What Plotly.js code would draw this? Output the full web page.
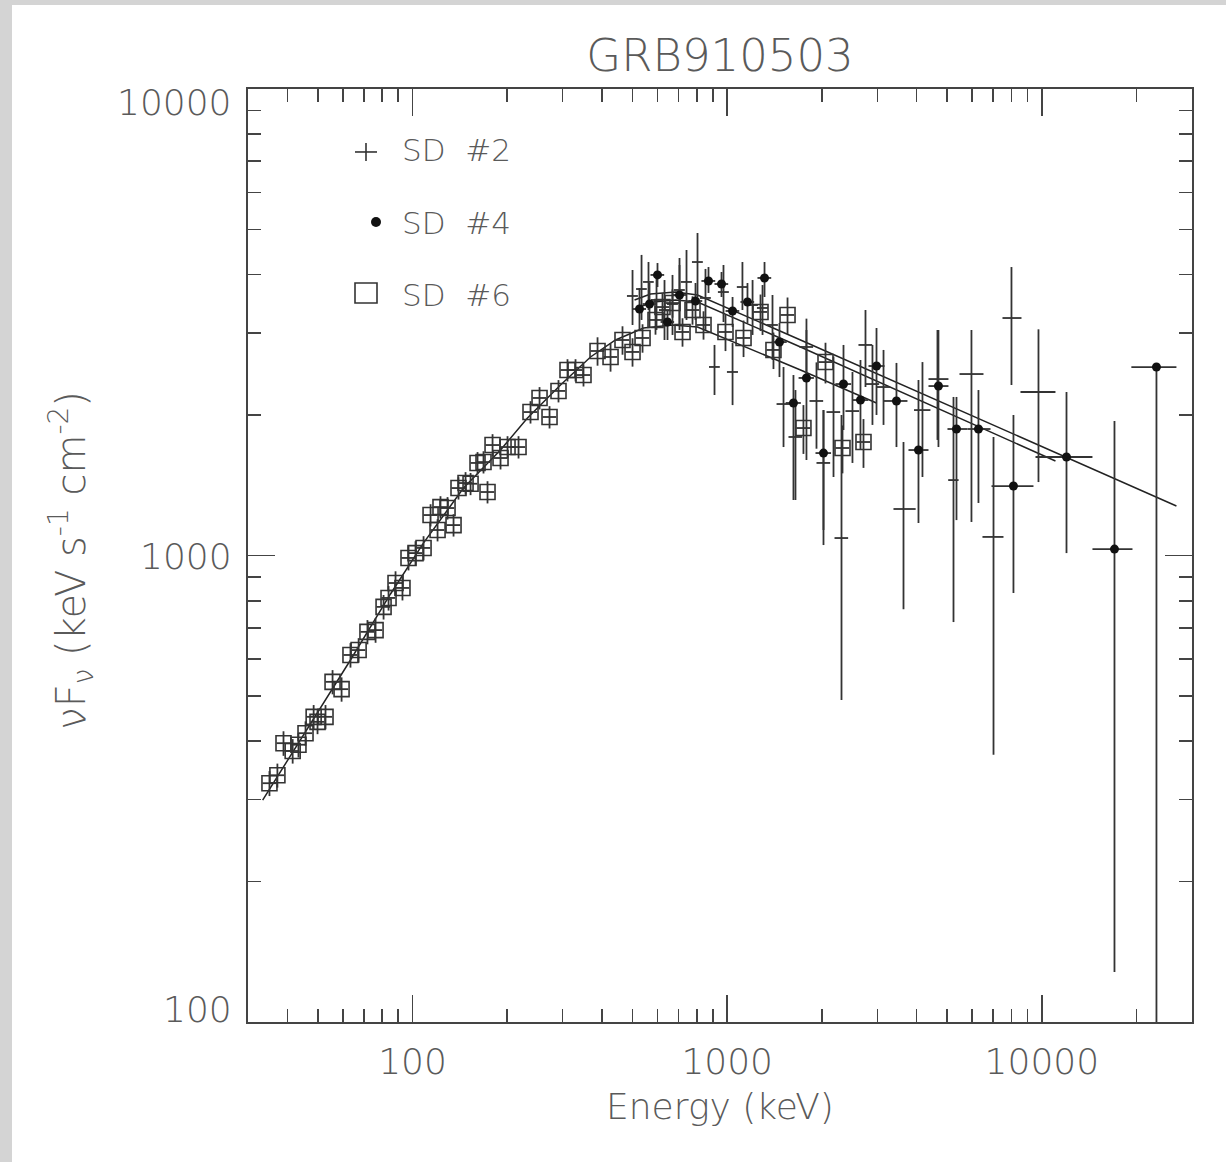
<!DOCTYPE html>
<html>
<head>
<meta charset="utf-8">
<script src="https://cdn.plot.ly/plotly-3.0.1.min.js"></script>
<style>
  html, body { margin: 0; padding: 0; background: #d4d4d4; width: 1226px; height: 1162px; overflow: hidden; }
  #chart { position: absolute; left: 12px; top: 5px; width: 1214px; height: 1157px; background: #ffffff; }
</style>
</head>
<body>
<div id="chart"></div>
<script>
// ---------------- data ----------------
// SD #6 (open squares)
const sd6E = [35.1, 37.2, 38.9, 41.6, 43.4, 45.7, 48.5, 49.9, 52.9, 55.7, 59.5, 63.5, 67.4, 71.9, 76.3, 80.9, 83.9, 88.3, 92.9, 97.1,
              102.2, 108.4, 114.1, 120.1, 122.7, 129.2, 135.0, 140.0, 147.4, 152.9, 160.9, 168.1, 173.1, 179.6, 190.4, 200.4, 217.2, 237.1, 253.3, 272.5,
              291.0, 310.8, 329.6, 349.4, 387.2, 425.9, 464.8, 500.2, 538.2, 591.8, 622.8, 670.2, 721.1, 775.8, 840.9, 987.6, 1127, 1276, 1403, 1555,
              1747, 2053, 2325, 2711];
const sd6F = [325, 338, 396, 381, 393, 416, 451, 440, 451, 536, 517, 612, 627, 686, 692, 776, 811, 873, 852, 988,
              1012, 1038, 1221, 1134, 1270, 1264, 1162, 1395, 1430, 1425, 1579, 1586, 1368, 1725, 1618, 1708, 1708, 2030, 2176, 1981,
              2253, 2498, 2498, 2437, 2744, 2664, 2897, 2731, 2926, 3198, 3409, 3477, 3014, 3359, 3120, 3014, 2926, 3327, 2758, 3278,
              1876, 2598, 1700, 1751];
const sd6Err = [20, 20, 24, 23, 24, 25, 27, 26, 27, 32, 31, 37, 38, 41, 42, 47, 49, 52, 51, 59,
                61, 62, 67, 62, 70, 70, 64, 77, 79, 78, 87, 87, 75, 95, 89, 94, 94, 112, 120, 109,
                124, 137, 137, 134, 192, 186, 203, 191, 205, 224, 239, 243, 211, 235, 218, 271, 263, 299, 248, 295,
                225, 260, 200, 210];

// SD #4 (filled circles)
const sd4E = [526.3, 566.4, 600.5, 646.1, 705.4, 793.0, 872.1, 959.2, 1040, 1160, 1314, 1466, 1624, 1786, 2023, 2342, 2652, 2982,
              3451, 4054, 4692, 5354, 6288, 8123, 11975, 17012, 23130];
const sd4F = [3376, 3460, 3994, 3166, 3618, 3512, 3877, 3819, 3343, 3495, 3935, 2868, 2123, 2402, 1658, 2331, 2154, 2548,
              2144, 1683, 2308, 1867, 1867, 1409, 1626, 1032, 2535];
const sd4ErrHi = [369, 378, 242, 193, 577, 326, 276, 233, 239, 343, 322, 283, 314, 642, 392, 496, 471, 526,
                  443, 695, 736, 320, 396, 592, 615, 910, 0];
const sd4ErrLo = [332, 371, 231, 269, 574, 314, 223, 237, 254, 344, 353, 455, 808, 800, 605, 473, 471, 547,
                  436, 509, 600, 676, 571, 578, 614, 904, 2600];
const sd4BinHi = [26, 28, 30, 32, 35, 40, 44, 48, 52, 58, 66, 80, 90, 100, 115, 135, 155, 180,
                  289, 308, 356, 447, 579, 1281, 2505, 2396, 3640];
const sd4BinLo = [26, 28, 30, 32, 35, 40, 44, 48, 52, 58, 66, 80, 90, 100, 115, 135, 155, 170,
                  312, 286, 330, 342, 487, 1205, 2430, 2532, 3882];

// SD #2 (crosses)
const sd2E = [500.2, 534.3, 562.2, 596.2, 632.1, 670.2, 705.4, 742.5, 804.7, 853.1, 911.3, 973.2, 1040, 1118, 1204, 1295, 1393, 1510,
              1648, 1786, 1922, 2023, 2177, 2308, 2501, 2751, 2895, 3139, 3633, 4174, 4658, 5238, 5974, 7020, 8006, 9755];
const sd2F = [3600, 3726, 3858, 3530, 3359, 3460, 3708, 3858, 4257, 3565, 2536, 3671, 2474, 3763, 3443, 3393, 3120, 2112,
              1795, 2799, 2144, 1579, 2030, 1090, 2040, 2827, 2331, 2297, 1258, 2050, 2389, 1451, 2449, 1096, 3229, 2241];
const sd2ErrHi = [493, 683, 399, 522, 536, 534, 635, 660, 656, 549, 291, 524, 380, 494, 452, 407, 498, 423,
                  468, 420, 450, 471, 640, 911, 434, 532, 496, 461, 493, 548, 655, 736, 595, 699, 924, 813];
const sd2ErrLo = [480, 528, 499, 486, 462, 490, 588, 660, 675, 521, 328, 505, 373, 404, 473, 423, 495, 404,
                  480, 420, 450, 445, 557, 600, 461, 530, 426, 392, 491, 577, 620, 731, 1269, 722, 909, 804];
const sd2BinHi = [20, 21, 22, 24, 25, 27, 28, 30, 32, 34, 36, 39, 42, 45, 48, 52, 56, 75,
                  82, 89, 96, 101, 109, 115, 125, 138, 145, 157, 338, 250, 390, 200, 549, 531, 608, 1291];
const sd2BinLo = [20, 21, 22, 24, 25, 27, 28, 30, 32, 34, 36, 39, 42, 45, 48, 52, 56, 75,
                  82, 89, 96, 101, 109, 115, 125, 138, 145, 157, 257, 250, 296, 200, 501, 545, 510, 1204];

// model curves
const fit6E = [33.4, 49.9, 63.5, 85.1, 108.4, 145.2, 190.4, 231.9, 295.3, 367.8, 441.6, 542.0, 670.2, 804.7, 1710, 2982];
const fit6F = [299, 460, 597, 827, 1064, 1395, 1683, 1971, 2320, 2664, 2897, 3074, 3120, 3089, 2498, 2123];
const fit4E = [507.6, 570.6, 685.0, 804.7, 1710, 26770];
const fit4F = [3530, 3636, 3671, 3618, 2897, 1277];
const fit2E = [515.0, 583.2, 685.0, 804.7, 1710, 11046];
const fit2F = [3393, 3495, 3530, 3495, 2799, 1594];

// axes
const xRange = [30, 30000];
const yRange = [100, 10000];
const xTickVals = [100, 1000, 10000];
const xTickText = ['100', '1000', '10000'];
const xMinorVals = [40, 50, 60, 70, 80, 90, 200, 300, 400, 500, 600, 700, 800, 900,
                    2000, 3000, 4000, 5000, 6000, 7000, 8000, 9000, 20000];
const yTickVals = [100, 1000, 10000];
const yTickText = ['100', '1000', '10000'];
const yMinorVals = [200, 300, 400, 500, 600, 700, 800, 900, 2000, 3000, 4000, 5000, 6000, 7000, 8000, 9000];
const legendNames = ['SD\u00a0\u00a0#2', 'SD\u00a0\u00a0#4', 'SD\u00a0\u00a0#6'];
const titleText = 'GRB910503';
const xTitleText = 'Energy (keV)';
const yTitleText = 'νF<sub>ν</sub> (keV s<sup>-1</sup> cm<sup>-2</sup>)';

// ---------------- styling ----------------
const FONT = 'DejaVu Sans, Liberation Sans, sans-serif';
const TXT = '#5a5a5a';
const AX = '#444444';
const ERR = '#333333';
const W = 200;

const errStyle = { color: ERR, thickness: 1.8, width: 0 };

const traces = [
  { x: fit6E, y: fit6F, mode: 'lines', line: { color: '#222', width: 1.5 }, hoverinfo: 'skip' },
  { x: fit4E, y: fit4F, mode: 'lines', line: { color: '#222', width: 1.5 }, hoverinfo: 'skip' },
  { x: fit2E, y: fit2F, mode: 'lines', line: { color: '#222', width: 1.5 }, hoverinfo: 'skip' },
  { name: 'SD #2', x: sd2E, y: sd2F, mode: 'markers',
    marker: { size: 1, color: 'rgba(0,0,0,0)' },
    error_y: Object.assign({ type: 'data', symmetric: false, array: sd2ErrHi, arrayminus: sd2ErrLo }, errStyle),
    error_x: Object.assign({ type: 'data', symmetric: false, array: sd2BinHi, arrayminus: sd2BinLo }, errStyle) },
  { name: 'SD #6', x: sd6E, y: sd6F, mode: 'markers',
    marker: { symbol: 'square-open', size: 15, color: '#333', line: { width: 1.6, color: '#333' } },
    error_y: Object.assign({ type: 'data', array: sd6Err }, errStyle),
    error_x: Object.assign({ type: 'percent', value: 5 }, errStyle) },
  { name: 'SD #4', x: sd4E, y: sd4F, mode: 'markers',
    marker: { symbol: 'circle', size: 9, color: '#111' },
    error_y: Object.assign({ type: 'data', symmetric: false, array: sd4ErrHi, arrayminus: sd4ErrLo }, errStyle),
    error_x: Object.assign({ type: 'data', symmetric: false, array: sd4BinHi, arrayminus: sd4BinLo }, errStyle) }
];

const axisCommon = {
  type: 'log', showgrid: false, zeroline: false,
  showline: true, linecolor: AX, linewidth: 1.6, mirror: 'allticks',
  ticks: 'inside', ticklen: 27, tickwidth: 1.6, tickcolor: AX,
  tickmode: 'array'
};

const yLabelShift = [13, -1, -13];
const annotations = yTickVals.map((v, i) => ({
  xref: 'paper', yref: 'paper', x: 0, y: i / 2,
  xanchor: 'right', yanchor: 'middle', xshift: -14, yshift: yLabelShift[i],
  text: yTickText[i], showarrow: false,
  font: { family: FONT, size: 36, color: TXT, weight: W }
}));

const legY = [0.9346, 0.8569, 0.7792];
legendNames.forEach((t, i) => annotations.push({
  xref: 'paper', yref: 'paper', x: 0.161, y: legY[i], xanchor: 'left', yanchor: 'middle',
  text: t, showarrow: false, font: { family: FONT, size: 31, color: TXT, weight: W }
}));

annotations.push({
  xref: 'paper', yref: 'paper', x: -0.187, y: 0.495, xanchor: 'center', yanchor: 'middle',
  textangle: -90, showarrow: false, text: yTitleText,
  font: { family: FONT, size: 40, color: TXT, weight: W }
});
annotations.push({
  xref: 'paper', yref: 'paper', x: 0.5, y: -0.091, xanchor: 'center', yanchor: 'middle',
  showarrow: false, text: xTitleText,
  font: { family: FONT, size: 36, color: TXT, weight: W }
});

const pix = { xref: 'paper', yref: 'paper', xsizemode: 'pixel', ysizemode: 'pixel' };
const shapes = [
  Object.assign({ type: 'line', xanchor: 0.125, yanchor: 0.9325, x0: -11, x1: 11, y0: 0, y1: 0, line: { color: '#333', width: 1.6 } }, pix),
  Object.assign({ type: 'line', xanchor: 0.125, yanchor: 0.9325, x0: 0, x1: 0, y0: -9, y1: 9, line: { color: '#333', width: 1.6 } }, pix),
  Object.assign({ type: 'circle', xanchor: 0.1356, yanchor: 0.8574, x0: -5, x1: 5, y0: -5, y1: 5, fillcolor: '#111', line: { width: 0 } }, pix),
  Object.assign({ type: 'rect', xanchor: 0.125, yanchor: 0.7814, x0: -11, x1: 11, y0: -10, y1: 10, line: { color: '#333', width: 1.6 } }, pix)
];

const layout = {
  width: 1214, height: 1157,
  margin: { l: 236, r: 34, t: 84, b: 140 },
  paper_bgcolor: '#ffffff', plot_bgcolor: '#ffffff',
  showlegend: false,
  title: { text: titleText, font: { family: FONT, size: 45, color: TXT, weight: W },
           x: 0.5, xref: 'paper', xanchor: 'center', y: 1 - 50 / 1157, yref: 'container', yanchor: 'middle' },
  xaxis: Object.assign({}, axisCommon, {
    range: xRange.map(Math.log10),
    tickvals: xTickVals, ticktext: xTickText,
    tickfont: { family: FONT, size: 36, color: TXT, weight: W },
    ticklabelstandoff: 7,
    minor: { tickmode: 'array', tickvals: xMinorVals, ticks: 'inside', ticklen: 13, tickwidth: 1.6, tickcolor: AX, showgrid: false }
  }),
  yaxis: Object.assign({}, axisCommon, {
    range: yRange.map(Math.log10),
    tickvals: yTickVals, showticklabels: false,
    minor: { tickmode: 'array', tickvals: yMinorVals, ticks: 'inside', ticklen: 13, tickwidth: 1.6, tickcolor: AX, showgrid: false }
  }),
  annotations: annotations,
  shapes: shapes
};

Plotly.newPlot('chart', traces, layout, { displayModeBar: false, staticPlot: true });
</script>
</body>
</html>
